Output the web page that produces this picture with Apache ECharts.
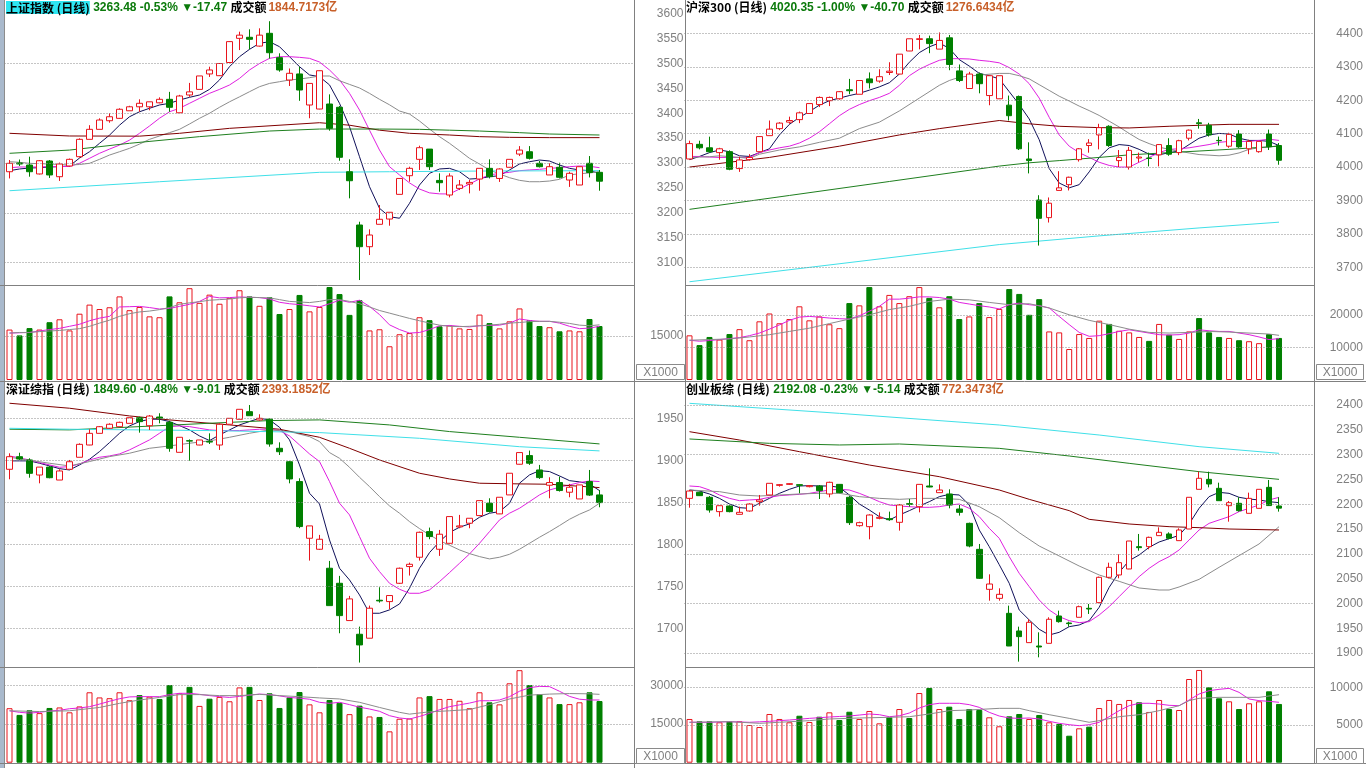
<!DOCTYPE html>
<html><head><meta charset="utf-8">
<script src="https://cdn.jsdelivr.net/npm/echarts@6/dist/echarts.min.js"></script>
<style>html,body{margin:0;padding:0;background:#fff;overflow:hidden}#c{width:1366px;height:768px}</style>
</head><body><div id="c"></div>
<script>
// ---------------- 上证指数 ----------------
const shOHLC = [
[3282.5,3299.4,3269,3306],[3300,3298,3294,3307],[3296,3282.5,3272.5,3312.7],[3278,3304.6,3277,3306],[3304,3276,3270,3306],
[3272.5,3298,3264,3301],[3294,3307.4,3293,3309],[3312.7,3347.6,3311,3349.6],[3347.6,3367.7,3347.6,3376],[3367.7,3386.4,3367.7,3389.8],
[3385,3393,3381,3400],[3389.8,3408,3389,3410],[3405,3413,3405,3415],[3413,3420,3403,3428],[3413,3423,3406,3423],
[3421,3428,3420,3432],[3428,3412,3403,3443],[3401,3434.7,3401,3437],[3436.7,3443,3433,3461],[3448,3475,3448,3475],
[3479,3487,3473,3493.6],[3475.5,3500,3475,3501],[3502,3544,3502,3545],[3550.6,3557,3527,3564],[3552.7,3548.6,3528.5,3568.7],
[3535,3557,3534,3570.7],[3560.7,3521.7,3510,3585],[3511.7,3487,3483.5,3520.5],[3466.8,3480.3,3454.8,3490],[3479,3446.7,3425,3493.6],
[3416.6,3460,3390,3460],[3408.5,3485.5,3408,3486],[3418.6,3369.7,3365,3438],[3412,3311.5,3304.6,3414.6],[3282.5,3264.4,3229,3307.4],
[3175.4,3131.8,3064.8,3182],[3131.8,3155.3,3115,3166.7],[3176.8,3186.9,3176.8,3215.6],[3187.4,3201,3174,3201],[3237,3269,3237,3269],
[3274.5,3289.3,3262.4,3292.6],[3307.4,3330.8,3286,3334.8],[3328,3292.6,3286,3328],[3265,3260.4,3242.3,3279.3],[3235.7,3273.9,3231,3279.3],
[3249,3255.8,3245.7,3265.8],[3257.8,3261,3239,3265.8],[3267.8,3289.3,3244.3,3289.3],[3289.3,3272.5,3269,3307.4],[3269,3288,3262,3289.3],
[3291.4,3307.4,3291,3307.4],[3318,3326,3314,3334],[3322.7,3309.4,3307,3334],[3299.4,3292.6,3291,3304],[3276,3292.6,3276,3299.4],
[3291.4,3271.3,3269,3300.6],[3265.8,3279.3,3252,3282.5],[3255.8,3292.6,3255.8,3292.6],[3299.4,3280.95,3271,3314],[3281.3,3263.48,3244.3,3286]
];
const shMA5 = [3284.6,3288,3290,3290.6,3292,3292.6,3294,3310,3322.7,3339.6,3356,3376,3393,3403,3410,3416.6,3420,3426.6,3432,3436.7,3448,3467,3493.6,3513.7,3528.5,3540.6,3543.8,3533.8,3513.7,3493.6,3477,3473.5,3457,3420,3373,3312.7,3252.4,3209,3192,3189,3219,3255.8,3279.3,3288,3289.3,3282.5,3267.8,3269,3272.5,3274.5,3286,3298,3302.6,3306,3304,3296,3289.3,3286,3284.6,3279.3];
const shMA10 = [3290.6,3292,3292,3292,3293,3293,3293,3299.4,3309.4,3319.5,3328,3336,3346,3359.7,3374.4,3390,3403,3410,3420,3430,3440,3448,3456.8,3470,3487,3500,3510.4,3513.7,3513.7,3512.4,3510.4,3503,3487,3467,3440,3406.5,3366,3326,3292.6,3276,3260,3247.7,3240,3238,3237.7,3247.7,3257.8,3268,3276,3279.3,3281.3,3284.6,3286,3287.3,3289.3,3290.6,3292.6,3294,3293.4,3290.6];
const shMA20 = [3302.6,3301.4,3299.4,3298.6,3298,3297,3296,3297,3299.4,3307.4,3316,3322.7,3329.5,3338,3347.6,3354.3,3361,3367.7,3378.4,3389.8,3400,3412,3423,3433,3443.3,3453.4,3460,3463.4,3466.8,3468.8,3471.5,3474.9,3474.9,3465.4,3458,3450.8,3440,3428,3417,3404.5,3398.5,3384.4,3368.3,3353,3339.6,3324.7,3309.4,3298,3286,3278,3270.5,3265.2,3262.4,3262.4,3263.8,3267.2,3276,3278.5,3280,3282.5];
const shMA60 = [[0,3359.7],[6,3354.3],[13,3354],[17,3359.7],[22,3369.7],[31,3381],[34,3376],[37,3366],[40,3359.7],[44,3356.3],[47,3353],[50,3351.6],[54,3351],[59,3351]];
const shMA120 = [[0,3319.5],[6,3326],[12,3339.6],[19,3353],[26,3364.3],[31,3368.3],[37,3368.3],[41,3367.7],[44,3366],[47,3364.3],[51,3361],[54,3358.3],[59,3356.3]];
const shMA250 = [[0,3244.3],[15,3262.4],[31,3281.3],[38,3282.5],[48,3284],[59,3284.6]];
const shVol = [17200,15200,17700,17200,19700,20700,16900,22600,25700,24200,24800,28500,23800,24900,21700,21400,28500,26500,31300,26300,29100,26000,28000,30600,28500,25300,28200,22500,24200,29000,23400,24900,31700,29300,22200,27200,16900,17300,11500,15600,16000,21400,20400,18300,18600,17600,17400,22300,19400,17600,20000,24400,20400,18400,18000,16600,16900,16600,20800,18400];
const shVMA5 = [16000,16100,16200,16700,17200,17600,18300,19000,20200,21100,21700,24900,25000,25100,24700,24200,24400,25100,25800,26800,28500,28000,28100,28300,28200,28100,27600,26500,26000,25700,25300,24900,26000,27200,26500,27200,25100,22300,18800,17200,16000,16200,17200,18500,18600,18300,18100,18500,18600,18700,19400,20800,20300,20000,20000,19400,18300,17500,17700,18300];
const shVMA10 = [16000,16200,16200,16500,16700,16900,17200,17500,18300,19400,20400,21700,22600,23200,23500,24000,24700,25800,26300,26700,27200,27400,27600,28000,28200,28100,28000,27400,26800,26600,26400,26800,27400,27400,26800,26000,24900,23700,22800,21900,21000,20200,19400,18700,18300,18200,18300,18500,18700,19000,19400,19600,19900,20000,20000,19700,19300,18700,18500,18800];

// ---------------- 沪深300 ----------------
const hsOHLC = [
[4024.2,4070.2,4022,4078.9],[4068,4057.6,4053,4078.9],[4057.6,4046,4043,4091],[4043.2,4054.7,4022,4057.6],[4046,3993.4,3990.5,4050],
[3995.4,4021.3,3985.6,4030.8],[4022.2,4028.8,4019.3,4038.5],[4046,4091.2,4046,4091.2],[4094,4113.4,4094,4139.3],[4115,4131.5,4110.5,4134.4],
[4134.4,4139.3,4129.5,4150.8],[4142,4162.3,4131.5,4166],[4160.3,4190,4160,4190],[4187,4208.4,4179.6,4211.3],[4198.6,4208.4,4182.5,4211],
[4204.3,4225.6,4201.5,4227.4],[4231.4,4228.5,4217.9,4263.9],[4217.9,4259,4217.9,4259],[4263.9,4252.4,4235.1,4283.2],[4257.3,4270.5,4252.4,4292.7],
[4283,4287,4275.4,4313.7],[4278.3,4337.9,4278,4338],[4347.4,4383.9,4347,4384],[4382,4384,4352.3,4395.4],[4384,4369.5,4340.8,4393.4],
[4353,4379,4353,4403],[4386.8,4307,4289.8,4395.4],[4287.8,4259,4254.4,4307],[4235.1,4278.3,4235,4285],[4278.3,4249.5,4220.7,4283.2],
[4214,4273.4,4185,4273.4],[4204.3,4273.4,4204,4273.4],[4185.3,4153.7,4139.3,4214],[4211.3,4054.7,4051,4214],[4024.2,4019.3,3981,4074],
[3901.3,3846.6,3765,3915.7],[3848.6,3891.8,3834,3909],[3930.1,3937.8,3930,3987.6],[3947.3,3969.5,3930,3971.2],[4022.2,4054.7,4016.4,4057],
[4064.5,4072,4043,4083.5],[4096.1,4118,4053,4129.5],[4122,4064.5,4060.4,4125],[4019.3,4028.8,4000,4051],[4000,4050,3992.5,4060.4],
[4027,4030,4014.4,4043.2],[4027,4025.9,4002,4043.2],[4036.5,4067.3,4002,4069],[4064.5,4038.5,4033.7,4086.3],[4043.2,4078.9,4035.7,4081.7],
[4086.3,4110.5,4079.7,4112.2],[4132.5,4130,4115,4144],[4125,4096.1,4091.2,4132.4],[4079.8,4078.9,4064.5,4091.2],[4062.4,4097.9,4057.6,4102.7],
[4099,4060.4,4057.6,4110.5],[4054.7,4076.8,4038.5,4081.7],[4046,4076.8,4043,4076.8],[4099,4061.05,4051,4112.2],[4064.5,4020.35,4006.9,4072]
];
const hsMA5 = [4022.2,4031.7,4043.2,4051,4046,4033.7,4031.7,4043.2,4054.7,4096.1,4127.8,4148.8,4166,4185.3,4198.6,4206.4,4214,4220.7,4230.2,4240,4252.4,4278.3,4313.7,4342.5,4359.8,4371.3,4355.2,4321.5,4302.2,4280.3,4273.4,4263.9,4225.6,4187,4143.9,4081.7,3995.4,3952.2,3937.8,3947.3,3985.6,4028.8,4057.6,4067.3,4064.5,4053,4038.5,4036.5,4043.2,4048,4067.3,4086.3,4096.1,4100.7,4099,4086.3,4079.7,4079.7,4076.8,4064.5];
const hsMA10 = [4031.7,4031.7,4030,4028.8,4028.8,4028.8,4028.8,4043.2,4051,4057.6,4062.5,4072,4086.3,4105.6,4129.5,4153.7,4172.7,4187,4198.6,4208.4,4220.7,4244.6,4273.4,4292.7,4307,4319.5,4324.4,4324.4,4323.5,4319.5,4316.6,4312,4297.6,4278.3,4249.5,4206.4,4148.8,4096.1,4062.5,4043.2,4028.8,4014.4,4004.9,4000,4000,4014.4,4028.8,4043.2,4053,4054.7,4057.6,4062.5,4067.3,4074,4076.8,4076.8,4076.8,4079.7,4083.5,4079.7];
const hsMA20 = [[0,4028.8],[2,4030.8],[3,4033.7],[5,4028.8],[6,4026],[7,4038.5],[9,4051],[11,4060.4],[13,4074],[15,4086.3],[17,4115],[19,4134.4],[21,4168],[23,4206.4],[25,4244.6],[26,4259],[27,4268.8],[29,4275.4],[31,4280.3],[32,4280.3],[33,4273.4],[34,4263.9],[35,4246.6],[36,4229.4],[37,4212.1],[38,4197.7],[39,4182.5],[40,4169],[41,4154.5],[42,4137.3],[43,4120],[44,4100.7],[45,4082.6],[46,4070.2],[47,4059.6],[48,4053],[49,4047.2],[50,4042.3],[51,4037.4],[52,4035.7],[53,4033.7],[54,4035.7],[55,4042.3],[56,4053],[57,4057.6],[58,4059.6],[59,4064.5]];
const hsMA60 = [[0,4000],[8,4028.8],[15,4062.5],[21,4096.1],[25,4115],[31,4139.3],[34,4129.5],[37,4122],[41,4118],[44,4117],[48,4122],[51,4124.9],[54,4127.8],[59,4127.8]];
const hsMA120 = [[0,3873.4],[10,3915],[20,3956.8],[31,4002.9],[34,4012.7],[37,4019.3],[41,4028.8],[44,4036.5],[48,4043.2],[51,4048],[54,4053],[59,4062.5]];
const hsMA250 = [[0,3656.7],[31,3768],[41,3794],[51,3817.8],[59,3835]];
const hsVol = [13700,10700,13200,12400,14100,15600,12200,18000,20400,17400,18700,22600,18300,19500,17100,15900,23600,22900,28500,22600,26100,23600,25700,28500,25200,22300,25700,18700,19500,23600,19300,21800,27900,26400,20000,24800,14900,14600,9500,14100,12900,18200,17200,15100,14600,13200,12000,17200,13900,12600,14900,19000,14600,13200,12900,12200,11900,11300,14100,12900];
const hsVMA5 = [12200,11900,12100,12400,12700,13000,13600,14400,15600,16900,18300,19300,19500,19300,19000,18800,18700,19700,21100,22600,24800,24800,25100,25500,25500,25300,24800,23800,23300,22800,22400,21800,23100,23600,23100,22800,22100,19500,17000,14600,13400,13600,14200,14900,15400,14900,14400,13900,13800,13900,14400,15400,15100,14900,14900,14400,13900,13200,12400,12700];
const hsVMA10 = [[0,12200],[2,12400],[4,12600],[6,13200],[8,13900],[10,14900],[12,15900],[14,17300],[16,18700],[18,20000],[20,21600],[22,22600],[24,24100],[26,24800],[28,24600],[30,23800],[32,23100],[34,23400],[36,22100],[38,20000],[40,18300],[42,17000],[44,15600],[46,14600],[48,14400],[50,14600],[52,14900],[54,14700],[56,14400],[58,14100],[59,13700]];

// ---------------- 深证综指 ----------------
const szOHLC = [
[1889.3,1904.3,1877.4,1908.3],[1904.3,1901.5,1900.4,1909],[1900.4,1884.5,1879.3,1902.4],[1882.5,1891.9,1872.6,1891.9],[1891.9,1879.3,1878.6,1893.2],
[1876.5,1887.3,1876.5,1889.3],[1889.3,1898.3,1889.3,1900.4],[1903.6,1919,1903.6,1920.2],[1918.2,1932.1,1918,1936.9],[1932.1,1940,1932,1940.8],
[1938.1,1942.9,1937.3,1944],[1940,1945.2,1940,1946],[1944,1950.7,1944,1950.7],[1950.7,1946,1932.9,1951.9],[1941.2,1952.7,1936.1,1953.9],
[1951.5,1950.2,1944,1956],[1945.2,1914.3,1910.2,1947.1],[1909.5,1927.4,1909.5,1927.4],[1923.3,1922.9,1899.5,1924.9],[1918.2,1924.2,1918,1924.2],
[1922.5,1921.7,1919.4,1932.1],[1918.2,1942.9,1912.3,1944],[1942.9,1950,1942.9,1950],[1948.8,1960.7,1948.8,1960.7],[1957.9,1953.1,1953.1,1965.8],
[1948,1950,1947.2,1954.8],[1949,1919.4,1916.2,1950],[1914.3,1910.2,1906.3,1921.4],[1898.3,1877.8,1872.6,1899.1],[1874.7,1821.1,1819.2,1878.6],
[1807.2,1821.9,1780.6,1821.9],[1794.1,1806,1793.3,1811.2],[1771.5,1727,1727,1780.2],[1753.6,1715.1,1694.1,1762.4],[1709.2,1735,1709.2,1738.6],
[1692.9,1680.2,1659.2,1702],[1688.2,1723.9,1688.2,1727],[1733.4,1732.6,1730.6,1748.9],[1731.8,1739,1722.7,1739],[1753.6,1771.5,1752.8,1772.3],
[1773.5,1776.2,1762.8,1778.2],[1784.6,1814.3,1780.6,1815.1],[1815.1,1809.2,1806,1819.9],[1794.1,1812,1786.2,1817.1],[1801.2,1833,1801,1833],
[1820.7,1821.9,1819.1,1835],[1825.1,1831,1819.1,1831],[1834.2,1852,1834,1852],[1848.9,1839,1837.8,1854.8],[1836.2,1856,1836,1856],
[1858.8,1884.6,1858.8,1884.6],[1895.3,1909.2,1895,1909.2],[1905.6,1896.5,1894.5,1911.6],[1888.5,1879.4,1877.8,1894.5],[1870.3,1873.5,1854.8,1879.8],
[1873.5,1864,1862.8,1880.6],[1862,1867.9,1856,1871.9],[1854,1870.7,1854,1870.7],[1874.7,1858.61,1857.5,1888.5],[1858.8,1849.6,1844.1,1864.7]
];
const szMA5 = [1899.3,1899.3,1899.3,1896.5,1893.3,1890.1,1888.5,1894.5,1901.2,1910.4,1921.1,1932.2,1940.9,1946.1,1948.9,1948.9,1946.1,1941.3,1936.2,1929,1923.5,1930.2,1936.2,1942.1,1946.1,1950,1948.1,1939.3,1924.3,1894.5,1860.8,1848,1805.2,1771.5,1757.6,1739.7,1717.9,1717.9,1721.9,1729,1747.7,1771.5,1790.1,1803.2,1814,1820.3,1824.3,1832.2,1837,1838.9,1848.9,1872.7,1882.6,1887.7,1886.6,1881.4,1875.8,1874.3,1871.9,1863.9];
const szMA10 = [1905.2,1902.8,1900.4,1897.3,1894.5,1891.7,1892.5,1895.7,1900.4,1903.6,1905.2,1907.6,1912.4,1918.3,1924.3,1932.2,1940.1,1940.9,1940.1,1938.1,1936.2,1935.4,1935.4,1935.4,1936.2,1937,1937,1935.4,1929,1918.3,1907.6,1898.5,1874.7,1848.9,1835,1809.2,1783.4,1767.5,1753.6,1746.5,1741.7,1741.7,1745.7,1755.6,1766.3,1777.4,1788.5,1801.2,1815.1,1829,1837,1842.9,1850.8,1858.8,1864.7,1867.9,1870.7,1873.5,1875.4,1874.7];
const szMA20 = [[0,1903.6],[4,1896.5],[6,1893.3],[8,1898.5],[10,1904.4],[12,1908.4],[14,1914.3],[16,1917.1],[18,1920.3],[20,1923.1],[22,1927.4],[24,1932.2],[26,1936.2],[28,1934.2],[30,1928.2],[31,1922.3],[32,1909.2],[33,1902.4],[34,1891.7],[35,1879.8],[36,1868.7],[37,1856.8],[38,1845.7],[39,1837],[40,1827],[41,1818.7],[42,1811.2],[43,1804.4],[44,1798.9],[45,1793.3],[46,1788.9],[47,1785.4],[48,1782.6],[49,1784.6],[50,1788.1],[51,1794.1],[52,1801.2],[53,1808.4],[54,1815.1],[55,1822.3],[56,1829.8],[57,1835.8],[58,1840.9],[59,1848.9]];
const szMA60 = [[0,1967.9],[6,1962],[12,1952.8],[16,1948.1],[22,1942.1],[27,1937],[31,1927.4],[34,1914.3],[37,1900.4],[41,1884.6],[44,1877.8],[47,1872.7],[51,1871.9],[54,1871.5],[59,1867.5]];
const szMA120 = [[0,1937],[6,1936.2],[13,1940.1],[20,1944.1],[26,1947.3],[31,1948.1],[38,1942.1],[44,1934.2],[51,1927.4],[59,1919.5]];
const szMA250 = [[0,1938.1],[6,1937],[13,1936.2],[20,1935.4],[31,1933],[41,1926.2],[51,1916.2],[59,1911.2]];
const szVol = [21200,18600,20400,19300,21300,21500,19600,21900,27400,25400,25100,27400,24300,26300,25700,24800,30200,27000,29500,22100,24900,25600,23900,29300,29500,24400,27000,21300,25400,27500,22700,19600,24400,23300,18900,22200,18000,17800,12200,17100,17200,25400,25900,24800,24800,24100,21200,27400,23500,22700,30900,36000,30200,26700,25400,22800,22800,23500,27400,24000];
const szVMA5 = [20200,19600,19300,19600,20100,20400,21000,21300,21800,22800,23900,24900,25600,25700,25700,25700,26500,27000,27000,26600,26100,25700,25400,25800,26300,26700,26500,26000,25400,25100,24700,23500,23100,23500,22600,21600,20900,20000,18300,17400,17000,18000,19200,20600,21800,22500,23200,24100,24100,24400,25700,27800,29200,29700,29600,27800,25800,24700,24400,24400];
const szVMA10 = [[0,20200],[3,19900],[6,20200],[9,21500],[11,23100],[13,24400],[15,25400],[17,26500],[19,26500],[21,26100],[23,26100],[25,26600],[27,26100],[29,25700],[31,25200],[33,24800],[35,23500],[37,21500],[39,19600],[40,18900],[42,19800],[44,20200],[46,20700],[48,22600],[50,24800],[52,26300],[54,26700],[56,26900],[58,26800],[59,26600]];

// ---------------- 创业板综 ----------------
const cyOHLC = [
[2211.8,2226.6,2193,2228.6],[2224,2217.2,2216.5,2225.3],[2213.9,2188.3,2183,2216.5],[2185,2197,2175,2197],[2196.4,2185,2183.6,2197.7],
[2179.6,2183.6,2179.6,2195],[2186.3,2200.4,2185,2201.8],[2205.1,2208.5,2197,2218.6],[2218.6,2242.1,2218.6,2242.1],[2238,2239.4,2235.4,2240.7],
[2240,2241.4,2238.7,2242],[2239.4,2238,2222,2240],[2235.4,2237.4,2234,2238.7],[2236.7,2227.3,2210.5,2238.7],[2220.6,2244.1,2213.9,2245.4],
[2240,2223.3,2222,2240.7],[2213.9,2162.8,2158.1,2216.5],[2156.7,2162.8,2154.7,2164.8],[2154.7,2178.2,2129.2,2179.6],[2171.5,2173.5,2169.5,2183.6],
[2170.8,2168.8,2166.8,2185],[2163.5,2198.4,2146.7,2200.4],[2201.1,2199.7,2195,2210.5],[2195,2240,2183.6,2240],[2236.7,2234.7,2234,2272.3],
[2223.3,2228.6,2223.3,2240],[2220.6,2198.4,2191.7,2230],[2190.3,2183.6,2177,2198.4],[2161.4,2115.7,2113.1,2162.8],[2109,2050.6,2049.2,2119.8],
[2028.4,2039.1,2005.5,2058.6],[2010.2,2018.3,2005.5,2030.4],[1980,1914.1,1914,1995.5],[1944.4,1933,1882.6,1953.1],[1920.9,1961.9,1920.9,1968],
[1914.1,1912.1,1891.3,1941.7],[1919.5,1968,1919.5,1972],[1974.6,1963.2,1961.2,1985.4],[1960.5,1959.2,1953.1,1963.2],[1972,1993.4,1972,1995.5],
[1990.1,1988.7,1978.7,1998.8],[2001.5,2052.6,2001.5,2054],[2052.6,2072.7,2050.6,2082.1],[2057.3,2082.1,2050.6,2099],[2069.4,2125.8,2069,2125.8],
[2114.4,2112.4,2106.3,2140],[2114.4,2133.2,2109,2134.6],[2136.6,2143.3,2136.6,2153.4],[2140,2131.2,2129.2,2143.3],[2126.5,2148,2126.5,2151.4],
[2150,2213.9,2150,2213.9],[2230,2252.2,2230,2265.6],[2250.1,2240.7,2234,2265.6],[2232,2207.1,2207,2243.4],[2197,2203.1,2164.8,2206.5],
[2201.8,2187,2185,2213.9],[2181.6,2211.8,2181.6,2223.3],[2191.7,2230,2191.7,2230],[2234,2197.22,2196.4,2248.8],[2196.4,2192.08,2185,2213.9]
];
const cyMA5 = [2228.6,2226.6,2220.6,2211.8,2200.4,2193,2191.7,2201.8,2211.8,2221.9,2230,2236.7,2237.4,2236.7,2236.7,2234,2218.6,2200.4,2188.3,2174.9,2168.2,2178.2,2187,2196.4,2205.1,2215.2,2219.9,2218.6,2198.4,2148,2114.4,2078,2040.5,1986.7,1966.6,1947.8,1936.3,1941.7,1953.1,1956.5,1965.2,1992.1,2032.4,2062.7,2086.2,2097.6,2113.1,2123.8,2130.5,2137.2,2160.1,2191.7,2215.2,2223.9,2221.9,2213.9,2210.5,2208.5,2205.1,2203.1];
const cyMA10 = [2236.7,2235.4,2228.6,2218.6,2211.8,2207.1,2208.5,2209.8,2213.9,2217.2,2218.6,2219.9,2221.9,2225.3,2228.6,2230,2228.6,2221.9,2213.9,2205.1,2198.4,2196.4,2195,2193.7,2193.7,2195,2198.4,2200.4,2191.7,2174.9,2151.4,2131.2,2094.2,2060.6,2033.8,2006.9,1986.7,1973.3,1965.2,1961.2,1963.2,1976.6,1993.4,2013.6,2033.8,2053.9,2070.7,2084.2,2094.2,2107.7,2127.8,2148,2161.4,2168.2,2174.9,2185,2191.7,2198.4,2208.5,2213.9];
const cyMA20 = [[0,2228.6],[3,2225.3],[5,2218.6],[7,2216.5],[9,2218.6],[11,2220.6],[13,2222],[15,2222],[17,2215.2],[19,2211.8],[21,2209.8],[23,2211.8],[25,2211.8],[27,2209.8],[29,2195],[31,2172.9],[33,2142.6],[35,2115.7],[37,2095.6],[39,2075.4],[41,2057.3],[43,2044.5],[45,2031.1],[47,2027],[48,2027],[49,2033.1],[51,2048.5],[53,2072.7],[55,2096.3],[57,2119.8],[59,2154.7]];
const cyMA60 = [[0,2346.2],[5,2329.4],[11,2305.9],[18,2279],[25,2255.5],[31,2228.6],[34,2209.8],[38,2187],[40,2169.5],[44,2160.1],[48,2154.7],[51,2152.7],[54,2150],[59,2148]];
const cyMA120 = [[0,2331.5],[8,2322.7],[15,2319.4],[21,2321.4],[31,2312.6],[38,2297.2],[44,2282.4],[51,2265.6],[59,2250.1]];
const cyMA250 = [[0,2403.4],[15,2383.2],[31,2359.7],[41,2339.5],[51,2316],[59,2302.6]];
const cyVol = [5800,5490,5490,5360,5490,5490,5000,4730,6460,5800,5360,6230,5400,6100,6680,5660,6760,5800,6860,5220,6020,7120,5930,9240,9910,7120,7430,5800,7120,6990,6020,4830,6150,6460,5800,6330,5360,5130,3580,4560,4780,7250,8320,7790,8320,8010,6730,8320,7120,6990,11100,12300,10000,8540,8140,7120,7880,8140,9470,7790];
const cyVMA5 = [5360,5360,5360,5400,5440,5400,5360,5420,5490,5580,5660,5770,5880,5970,6060,6130,6190,6320,6460,6370,6100,6230,6590,7250,7700,7880,7880,7880,7700,7340,6680,6190,5930,5880,5930,5800,5490,5220,5040,4910,5040,5360,6100,6900,7560,7880,7880,7780,7610,7560,8310,9110,9550,9730,9860,9330,8450,8230,8140,8010];
const cyVMA10 = [[0,5360],[4,5440],[7,5220],[9,5360],[12,5580],[14,5800],[17,5930],[20,6020],[22,6100],[24,6460],[26,6900],[28,6990],[31,7210],[33,7210],[34,6900],[36,6370],[38,5880],[40,5360],[41,5580],[43,6100],[45,6370],[47,6900],[49,7560],[50,8230],[51,8540],[53,8670],[55,8670],[57,8670],[59,9020]];

// ---------------- axes / ticks ----------------
const SLOTS = 63;
const days = Array.from({length: SLOTS}, (_, i) => 'D' + (i + 1));
const shGrid = [3100, 3200, 3300, 3400, 3500];
const hsGrid = [3700, 3800, 3900, 4000, 4100, 4200, 4300, 4400];
const szGrid = [1700, 1750, 1800, 1850, 1900, 1950];
const cyGrid = [1900, 2000, 2100, 2200, 2300, 2400];
const shVolTicks = [15000], hsVolTicks = [10000, 20000], szVolTicks = [15000, 30000], cyVolTicks = [5000, 10000];

const RED = '#e8141c', GREEN = '#008000';
const MA_COLORS = ['#10105a', '#e020e0', '#8c8c8c', '#800000', '#1f7f1f', '#40e0e8'];
const VMA_COLORS = ['#e020e0', '#8c8c8c'];
const LBL = {color: '#808080', fontSize: 12, fontFamily: 'Liberation Sans, Arial, sans-serif'};

const panels = [
  {ohlc: shOHLC, ma: [shMA5, shMA10, shMA20, shMA60, shMA120, shMA250], vol: shVol, vma: [shVMA5, shVMA10],
   left: 4.5, cTop: 13.75, cH: 273.65, cMin: 3050, cMax: 3600, cInt: 50, grid: shGrid,
   vTop: 286.14, vH: 93.86, vMax: 32000, vInt: 15000, vTicks: shVolTicks},
  {ohlc: hsOHLC, ma: [hsMA5, hsMA10, hsMA20, hsMA60, hsMA120, hsMA250], vol: hsVol, vma: [hsVMA5, hsVMA10],
   left: 684.5, cTop: -12.05, cH: 312.75, cMin: 3600, cMax: 4500, cInt: 100, grid: hsGrid,
   vTop: 285.46, vH: 94.54, vMax: 29000, vInt: 10000, vTicks: hsVolTicks},
  {ohlc: szOHLC, ma: [szMA5, szMA10, szMA20, szMA60, szMA120, szMA250], vol: szVol, vma: [szVMA5, szVMA10],
   left: 4.5, cTop: 376.3, cH: 294.0, cMin: 1650, cMax: 2000, cInt: 50, grid: szGrid,
   vTop: 667.61, vH: 95.09, vMax: 37000, vInt: 15000, vTicks: szVolTicks},
  {ohlc: cyOHLC, ma: [cyMA5, cyMA10, cyMA20, cyMA60, cyMA120, cyMA250], vol: cyVol, vma: [cyVMA5, cyVMA10],
   left: 684.5, cTop: 380.2, cH: 297.6, cMin: 1850, cMax: 2450, cInt: 50, grid: cyGrid,
   vTop: 667.7, vH: 95.0, vMax: 12600, vInt: 5000, vTicks: cyVolTicks}
];

const grids = [], xAxes = [], yAxes = [], series = [];
function gridLines(vals) {
  return {silent: true, symbol: 'none', animation: false, label: {show: false},
    lineStyle: {color: '#8a8a8a', type: [1, 2], width: 1}, emphasis: {disabled: true},
    data: vals.map(v => ({yAxis: v}))};
}
function toPairs(arr) { return arr.map((d, i) => Array.isArray(d) ? d : [i, d]); }

panels.forEach((p, k) => {
  const gc = 2 * k, gv = 2 * k + 1;
  grids.push({left: p.left, top: p.cTop, width: 630, height: p.cH});
  grids.push({left: p.left, top: p.vTop, width: 630, height: p.vH});
  [gc, gv].forEach(g => xAxes.push({type: 'category', gridIndex: g, data: days, show: false, boundaryGap: true}));
  yAxes.push({type: 'value', gridIndex: gc, position: 'right', min: p.cMin, max: p.cMax, interval: p.cInt,
    axisLine: {show: false}, axisTick: {show: false}, splitLine: {show: false},
    axisLabel: Object.assign({margin: 49, align: 'right', showMinLabel: false,
      showMaxLabel: k === 0, formatter: v => String(v)}, LBL)});
  const vt = p.vTicks;
  yAxes.push({type: 'value', gridIndex: gv, position: 'right', min: 0, max: p.vMax, interval: p.vInt,
    axisLine: {show: false}, axisTick: {show: false}, splitLine: {show: false},
    axisLabel: Object.assign({margin: 49, align: 'right', formatter: v => vt.indexOf(v) >= 0 ? String(v) : ''}, LBL)});

  series.push({type: 'candlestick', xAxisIndex: gc, yAxisIndex: gc, data: p.ohlc, barWidth: 6, z: 4,
    itemStyle: {color: '#ffffff', color0: GREEN, borderColor: RED, borderColor0: GREEN, borderWidth: 1},
    markLine: gridLines(p.grid)});
  p.ma.forEach((m, j) => series.push({type: 'line', xAxisIndex: gc, yAxisIndex: gc, data: toPairs(m),
    symbol: 'none', showSymbol: false, silent: true, z: 3, lineStyle: {color: MA_COLORS[j], width: 1}}));

  series.push({type: 'bar', xAxisIndex: gv, yAxisIndex: gv, barWidth: 6, z: 4,
    data: p.vol.map((v, i) => {
      const up = p.ohlc[i][1] >= p.ohlc[i][0];
      return {value: v, itemStyle: up ? {color: '#ffffff', borderColor: RED, borderWidth: 1}
                                      : {color: GREEN, borderColor: GREEN, borderWidth: 1}};
    }),
    markLine: gridLines(p.vTicks)});
  p.vma.forEach((m, j) => series.push({type: 'line', xAxisIndex: gv, yAxisIndex: gv, data: toPairs(m),
    symbol: 'none', showSymbol: false, silent: true, z: 5, lineStyle: {color: VMA_COLORS[j], width: 1}}));
});

const richBase = {
  n: {fontFamily: 'Noto Sans CJK SC', fontSize: 12, color: '#000', lineHeight: 15},
  nb: {fontFamily: 'Noto Sans CJK SC', fontSize: 12, color: '#000', lineHeight: 15, backgroundColor: '#2ee6f2', padding: [1, 0, 0, 0]},
  v: {fontFamily: 'Liberation Sans, DejaVu Sans, sans-serif', fontSize: 12, color: '#0b7a0b', lineHeight: 15},
  k: {fontFamily: 'Noto Sans CJK SC', fontSize: 12, color: '#000', lineHeight: 15},
  a: {fontFamily: 'Liberation Sans, Noto Sans CJK SC', fontSize: 12, color: '#c8602a', lineHeight: 15, padding: [0, 0, 0, 2]}
};
function head(x, y, nameStyle, name, vals, amt) {
  return {left: x, top: y, padding: 0, itemGap: 0,
    text: '{' + nameStyle + '|' + name + '}{v| ' + vals + ' }{k|成交额}{a|' + amt + '}',
    textStyle: {rich: richBase}};
}
const titles = [
  head(6, 0, 'nb', '上证指数 (日线)', '3263.48 -0.53% ▼-17.47', '1844.7173亿'),
  head(686, 0, 'n', '沪深300 (日线)', '4020.35 -1.00% ▼-40.70', '1276.6434亿'),
  head(6, 382, 'n', '深证综指 (日线)', '1849.60 -0.48% ▼-9.01', '2393.1852亿'),
  head(686, 382, 'n', '创业板综 (日线)', '2192.08 -0.23% ▼-5.14', '772.3473亿')
];

const LC = '#808080';
function ln(x1, y1, x2, y2, c) { return {type: 'line', silent: true, z: 10, shape: {x1, y1, x2, y2}, style: {stroke: c || LC, lineWidth: 1}}; }
function box(x, y, w, h) {
  return [{type: 'rect', silent: true, z: 11, shape: {x, y, width: w, height: h}, style: {fill: '#fff', stroke: '#8a8a8a', lineWidth: 1}},
          {type: 'text', silent: true, z: 12, x: x + w / 2, y: y + h / 2 + 1,
           style: {text: 'X1000', fill: '#808080', font: '12px Liberation Sans, Arial', align: 'center', verticalAlign: 'middle'}}];
}
const graphic = [
  {type: 'rect', silent: true, z: 10, shape: {x: 0, y: 0, width: 4, height: 768}, style: {fill: '#a9b9cc'}},
  ln(4.5, 0, 4.5, 768, '#8c8c8c'),
  ln(634.5, 0, 634.5, 768), ln(685.5, 0, 685.5, 763.5), ln(1314.5, 0, 1314.5, 763.5),
  ln(0, 285.5, 634.5, 285.5), ln(685.5, 285.5, 1314.5, 285.5),
  ln(0, 381.5, 1366, 381.5),
  ln(0, 667.5, 634.5, 667.5), ln(685.5, 667.5, 1314.5, 667.5),
  ln(0, 763.5, 1366, 763.5)
].concat(box(636.5, 364.5, 48, 15), box(1316.5, 364.5, 47, 15), box(636.5, 748.5, 48, 15), box(1316.5, 748.5, 47, 15));

const chart = echarts.init(document.getElementById('c'), null, {renderer: 'canvas'});
chart.setOption({
  animation: false,
  backgroundColor: '#ffffff',
  title: titles,
  grid: grids,
  xAxis: xAxes,
  yAxis: yAxes,
  series: series,
  graphic: graphic
});
</script></body></html>
